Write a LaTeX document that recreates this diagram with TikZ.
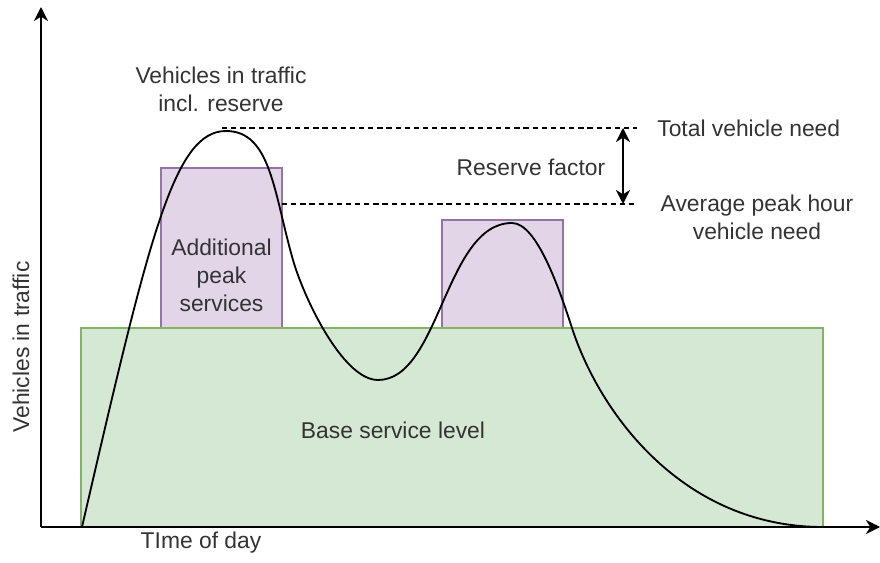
\documentclass[tikz,border=0pt]{standalone}
\usepackage{fontspec}
\setmainfont{Liberation Sans}
\usepackage{xcolor}
\usepackage{tikz}
\usetikzlibrary{arrows.meta}
\definecolor{ink}{HTML}{333333}
\definecolor{basefill}{HTML}{D5E8D4}
\definecolor{baseedge}{HTML}{82B366}
\definecolor{peakfill}{HTML}{E1D5E7}
\definecolor{peakedge}{HTML}{9673A6}
\tikzset{
  tip/.style={-{Stealth[length=8pt,width=8pt,inset=2.5pt]}},
  axis/.style={draw=black, line width=1pt, tip},
  curve/.style={draw=black, line width=1.05pt, line cap=round, line join=round},
  help/.style={draw=black, dash pattern=on 3pt off 2.2pt, line width=0.7pt},
  span/.style={draw=black, line width=1pt,
    {Stealth[length=8pt,width=8pt,inset=2.5pt]}-{Stealth[length=8pt,width=8pt,inset=2.5pt]}},
  basebox/.style={fill=basefill, draw=baseedge, line width=0.6pt},
  peakbox/.style={fill=peakfill, draw=peakedge, line width=0.6pt},
  lab/.style={text=ink, font=\fontsize{13}{15.9}\selectfont, align=center, inner sep=0pt},
}

\begin{document}
\begin{tikzpicture}[x=0.02cm, y=0.02cm]
  \useasboundingbox (0,0) rectangle (880,562);
  % service blocks
  \draw[peakbox] (161,234) rectangle (282,394);
  \draw[peakbox] (442,234) rectangle (563,342);
  \draw[basebox] (81,35) rectangle (823,234);
  % vehicles in traffic over the day
  \coordinate (start) at (82,35);
  \coordinate (pk1) at (226,431);
  \coordinate (drop) at (293,302);
  \coordinate (low) at (378,182);
  \coordinate (pk2) at (512,339);
  \coordinate (fall) at (572,234);
  \coordinate (stop) at (823,35);
  \draw[curve] (start) .. controls (149.5,327) and (174,431) .. (pk1)
    .. controls (271,431) and (273.7,369.3) .. (drop)
    .. controls (304,263.6) and (343,182) .. (low)
    .. controls (440,182) and (445,339) .. (pk2)
    .. controls (537,339) and (559.6,272) .. (fall)
    .. controls (599.8,148.4) and (683,35) .. (stop);
  % axes
  \coordinate (O) at (41,35);
  \coordinate (xend) at (880,35);
  \coordinate (yend) at (41,555);
  \draw[axis] (O) -- (xend);
  \draw[axis] (O) -- (yend);
  % need levels
  \coordinate (top1) at (222,434);
  \coordinate (top2) at (637,434);
  \coordinate (avg1) at (282,358);
  \coordinate (avg2) at (637,358);
  \draw[help] (top1) -- (top2);
  \draw[help] (avg1) -- (avg2);
  \coordinate (res1) at (623,434);
  \coordinate (res2) at (623,358);
  \draw[span] (res1) -- (res2);
  % labels
  \node[lab] (incl) at (221,473) {Vehicles in traffic\\incl. reserve};
  \node[lab] (addl) at (221.5,287) {Additional\\peak\\services};
  \node[lab] (resf) at (531,395) {Reserve factor};
  \node[lab, anchor=west] (total) at (657,434) {Total vehicle need};
  \node[lab] (avgneed) at (757,345) {Average peak hour\\vehicle need};
  \node[lab] (basel) at (393,132) {Base service level};
  \node[lab] (tod) at (201,19) {TIme of day};
  \node[lab, rotate=90] (vit) at (21,215) {Vehicles in traffic};
\end{tikzpicture}
\end{document}
